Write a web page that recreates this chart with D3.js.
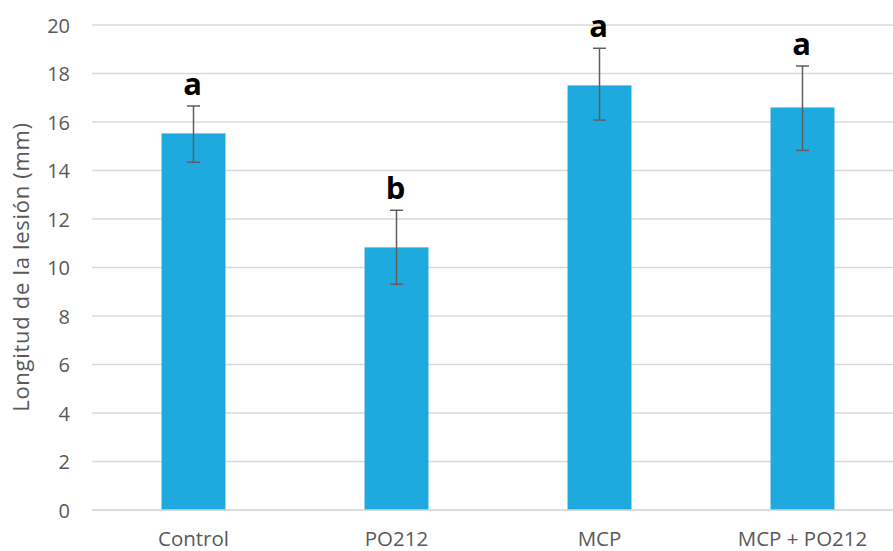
<!DOCTYPE html>
<html>
<head>
<meta charset="utf-8">
<script src="https://cdn.jsdelivr.net/npm/d3@7"></script>
<style>
  html, body { margin: 0; padding: 0; background: #fff; }
  svg { display: block; }
</style>
</head>
<body>
<svg id="chart" width="893" height="551"></svg>
<script>
const categories = ["Control", "PO212", "MCP", "MCP + PO212"];
const means = [15.53, 10.83, 17.51, 16.6];
const errLow = [14.34, 9.31, 16.08, 14.83];
const errHigh = [16.66, 12.36, 19.04, 18.31];
const letters = ["a", "b", "a", "a"];
const yTicks = [0, 2, 4, 6, 8, 10, 12, 14, 16, 18, 20];
const yTitle = "Longitud de la lesión (mm)";

const svg = d3.select("#chart");
const W = 893, H = 551;
const font = "'Open Sans', sans-serif";
const textColor = "#595959";

const x = d3.scaleBand().domain(categories).range([92, 904]).paddingInner(0.685).paddingOuter(0.3425);
const y = d3.scaleLinear().domain([0, 20]).range([510, 25]);

// gridlines
svg.append("g").selectAll("line").data(yTicks.filter(d => d !== 0)).join("line")
  .attr("x1", 92).attr("x2", W)
  .attr("y1", d => y(d)).attr("y2", d => y(d))
  .attr("stroke", "#d9d9d9").attr("stroke-width", 1.3);

// y axis labels
const yAxis = d3.axisLeft(y).tickValues(yTicks).tickSize(0).tickPadding(0).tickFormat(d3.format("d"));
const ya = svg.append("g").attr("transform", "translate(70,0)").call(yAxis);
ya.select(".domain").remove();
ya.selectAll("text").attr("font-family", font).attr("font-size", 20).attr("fill", textColor).attr("dy", "0.36em");

// bars
svg.append("g").selectAll("rect").data(categories).join("rect")
  .attr("x", d => x(d)).attr("width", x.bandwidth())
  .attr("y", (d, i) => y(means[i])).attr("height", (d, i) => y(0) - y(means[i]))
  .attr("fill", "#1FAADF");

// baseline
svg.append("line").attr("x1", 92).attr("x2", W).attr("y1", y(0)).attr("y2", y(0))
  .attr("stroke", "#d0d0d0").attr("stroke-width", 1.3);

// x axis labels
const xAxis = d3.axisBottom(x).tickSize(0).tickPadding(0);
const xa = svg.append("g").attr("transform", `translate(0,${y(0)})`).call(xAxis);
xa.select(".domain").remove();
xa.selectAll("text").attr("font-family", font).attr("font-size", 20.5).attr("fill", textColor).attr("dy", null).attr("y", 36);

// error bars
const eb = svg.append("g").attr("stroke", "#5f5f5f").attr("stroke-width", 1.5);
categories.forEach((c, i) => {
  const cx = x(c) + x.bandwidth() / 2;
  eb.append("line").attr("x1", cx).attr("x2", cx).attr("y1", y(errLow[i])).attr("y2", y(errHigh[i]));
  eb.append("line").attr("x1", cx - 6.5).attr("x2", cx + 6.5).attr("y1", y(errLow[i])).attr("y2", y(errLow[i]));
  eb.append("line").attr("x1", cx - 6.5).attr("x2", cx + 6.5).attr("y1", y(errHigh[i])).attr("y2", y(errHigh[i]));
});

// significance letters
svg.append("g").selectAll("text").data(categories).join("text")
  .attr("x", d => x(d) + x.bandwidth() / 2 - 1)
  .attr("y", (d, i) => y(errHigh[i]) - 11)
  .attr("text-anchor", "middle")
  .attr("font-family", font).attr("font-weight", "bold").attr("font-size", 31)
  .attr("fill", "#000")
  .text((d, i) => letters[i]);

// y title
svg.append("text")
  .attr("transform", "translate(29,267) rotate(-90)")
  .attr("text-anchor", "middle")
  .attr("font-family", font).attr("font-size", 22).attr("letter-spacing", 0.7).attr("fill", textColor)
  .text(yTitle);
</script>
</body>
</html>
